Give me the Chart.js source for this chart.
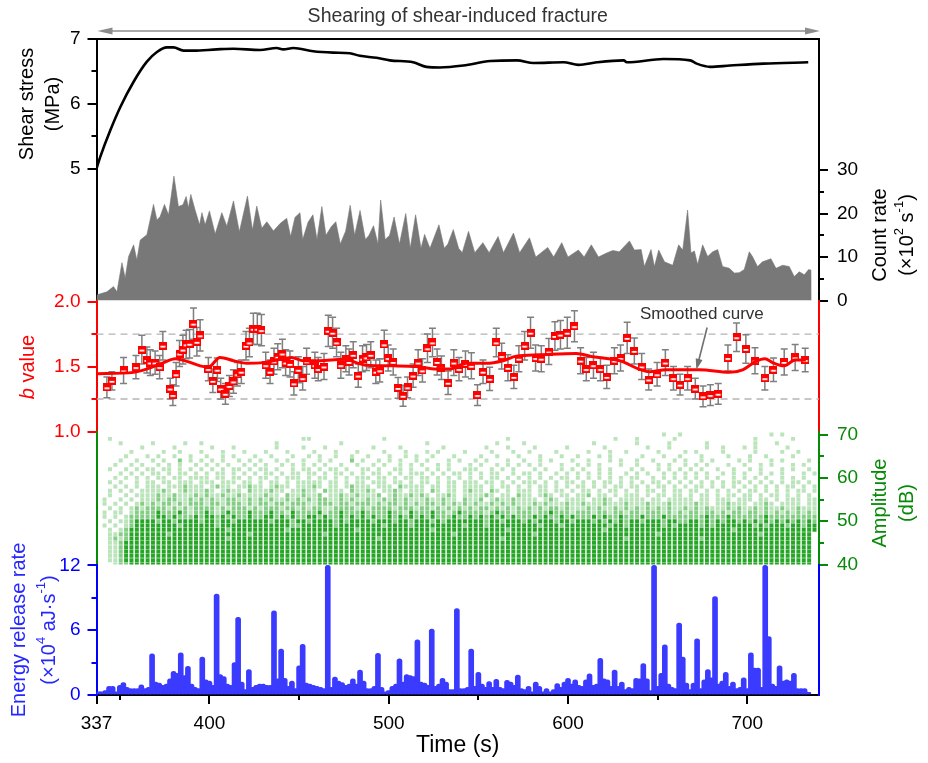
<!DOCTYPE html>
<html><head><meta charset="utf-8">
<script src="https://cdn.jsdelivr.net/npm/chart.js@4.4.1/dist/chart.umd.min.js"></script>
<style>html,body{margin:0;padding:0;background:#fff;}canvas{display:block}</style>
</head><body>
<canvas id="c" width="928" height="763" style="width:928px;height:763px"></canvas>
<script>
// ---------------- DATA ----------------
const xTicks = [337,350,400,450,500,550,600,650,700];
const xLabels = ['337','','400','','500','','600','','700'];
const stressTicks = [5,5.5,6,6.5,7];
const stressLabels = ['5','','6','','7'];
const countTicks = [0,5,10,15,20,25,30];
const countLabels = ['0','','10','','20','','30'];
const bTicks = [1,1.25,1.5,1.75,2];
const bLabels = ['1.0','','1.5','','2.0'];
const ampTicks = [40,45,50,55,60,65,70];
const ampLabels = ['40','','50','','60','','70'];
const energyTicks = [0,3,6,9,12];
const energyLabels = ['0','','6','','12'];

const stressTime = [337,339.1,344.7,350.3,357.7,365.1,370.7,376.3,380,385.5,391.1,404.1,413.4,428.2,437.5,441.2,446.8,457.9,469,478.3,483.9,493.2,500.6,513.6,521,528.5,541.6,556.7,571.5,580.8,597.5,605.9,616.1,631,632.8,653.2,668.1,671.8,679.2,690.4,709,734];
const stressValue = [5.0,5.18,5.59,5.95,6.34,6.65,6.80,6.87,6.87,6.82,6.82,6.84,6.85,6.83,6.86,6.84,6.86,6.81,6.79,6.78,6.74,6.71,6.67,6.64,6.57,6.56,6.59,6.66,6.67,6.63,6.64,6.60,6.64,6.67,6.64,6.69,6.67,6.62,6.57,6.59,6.62,6.64];

const countTime = [337,337.3,342.8,346.5,348.4,351.2,353,354.9,357.7,359.5,361.4,365.1,368.8,370.7,372.5,374.9,377.2,380.2,382.7,385.2,387,388.3,389.6,392,394.5,395.8,397.6,400,403.2,406.9,409.7,413.4,416.7,421.2,424,426.4,429.2,432,435.7,439.4,443.1,445.3,447.7,450.5,452,455,457.7,460,462.7,465,468,470.5,473,476,478.5,481,484,487,489,491.5,494,495.5,498,500.5,503,506,509.5,512,515,518,520,523,528,531,533,536,539,541,544.5,548,552.5,556,561,564,569.6,573,578.5,582,588.7,592,596.5,600,605.8,609,613,617,621.5,625,628.6,634.3,637,640.8,642.6,646.3,648.2,650.6,653.8,658.4,661.7,664,666.7,668.6,670.5,672.3,675.1,677.9,680.7,683.5,686.2,690,692.8,695.5,698.3,701.1,702.9,705.7,708.5,713.2,716,719.7,723.4,726.2,729,731.8,734.2,735.5,735.6];
const countValue = [0,1.3,2.0,3.2,2.0,8.7,5.2,10.1,12.8,9.3,13.9,15.1,22.1,18.5,19.3,22.1,19.7,28.6,21.6,22.0,23.9,21.3,24.4,20.8,17.4,20.2,17.4,20.6,15.3,20.2,17.1,22.9,15.8,24.0,16.2,21.7,16.6,18.1,16.0,17.7,18.9,14.7,19.1,20.2,14,18,19.7,14,21.6,15,17,18.1,13,16,21.9,15,20.7,14,15,17.2,13,23.1,14,15,19.2,13,20.0,12,19.7,12,15.2,12,17.4,12,13,16.3,12,11,15.9,11,13.3,11,14.7,11,15.5,11,14.4,10,12.2,10,13.3,10,11.6,10,12.8,10,10.9,11.5,11.2,13.7,11.6,11.7,7.8,11.7,7.8,11.6,8.9,8.1,12.8,11.6,20.8,10.9,11.4,8.3,12.8,10.1,11.2,11.7,7.8,7.4,6.3,6.4,7.1,11.2,10.1,7.8,8.9,9.6,7.4,8.1,7.8,5.5,6.6,5.9,7.1,7.0,0];

const bTime = [342.8,345.6,352.1,359.0,362.3,365.1,367.0,369.7,372.2,374.0,378.1,379.6,381.4,383.3,385.2,387.0,388.9,391.1,393.0,394.8,399.4,401.9,404.4,406.3,408.9,411.1,413.4,415.6,417.8,420.4,422.3,424.5,426.7,429.0,431.4,433.8,436.0,438.1,440.7,442.5,444.9,447.1,449.6,452.0,454.2,458.8,460.7,463.9,466.3,468.7,470.9,473.3,476.1,477.9,480.2,483.0,485.4,487.6,490.0,492.8,495.0,497.5,499.7,502.5,505.2,508.0,510.5,513.6,516.4,518.8,521.6,524.4,527.0,529.4,533.1,536.3,539.2,542.8,546.1,549.5,552.6,556.3,560.0,563.0,566.5,569.8,572.6,575.8,579.1,581.9,585.1,589.3,592.7,595.8,599.6,603.6,607.0,610.2,614.2,618.1,621.6,625.9,629.3,633.0,637.0,641.1,645.0,649.7,654.3,658.8,662.5,666.7,671.0,675.3,679.4,683.8,689.2,694.0,699.2,704.3,709.8,714.6,720.6,726.7,732.3];
const bValue = [1.34,1.39,1.47,1.495,1.63,1.55,1.53,1.53,1.495,1.66,1.33,1.28,1.44,1.60,1.63,1.67,1.675,1.83,1.69,1.74,1.48,1.39,1.475,1.33,1.29,1.35,1.385,1.44,1.46,1.66,1.685,1.79,1.79,1.78,1.51,1.46,1.54,1.575,1.60,1.53,1.52,1.37,1.475,1.41,1.54,1.51,1.48,1.50,1.775,1.76,1.685,1.51,1.56,1.535,1.59,1.43,1.56,1.57,1.59,1.46,1.47,1.67,1.565,1.535,1.335,1.275,1.34,1.43,1.53,1.47,1.64,1.685,1.535,1.49,1.375,1.53,1.48,1.52,1.505,1.28,1.46,1.405,1.685,1.58,1.49,1.42,1.56,1.66,1.76,1.565,1.56,1.615,1.735,1.745,1.76,1.81,1.545,1.48,1.51,1.48,1.42,1.545,1.565,1.72,1.62,1.50,1.40,1.44,1.53,1.41,1.36,1.41,1.33,1.27,1.28,1.29,1.565,1.725,1.635,1.545,1.41,1.475,1.535,1.57,1.55];
const bError = [0.08,0.07,0.10,0.09,0.11,0.10,0.10,0.09,0.09,0.11,0.08,0.08,0.09,0.10,0.11,0.11,0.11,0.12,0.11,0.12,0.09,0.09,0.09,0.08,0.08,0.08,0.09,0.09,0.09,0.11,0.11,0.12,0.12,0.12,0.10,0.09,0.10,0.10,0.11,0.10,0.10,0.09,0.10,0.09,0.10,0.10,0.09,0.10,0.12,0.12,0.11,0.10,0.10,0.10,0.10,0.09,0.10,0.10,0.10,0.09,0.09,0.11,0.10,0.10,0.08,0.08,0.08,0.09,0.10,0.09,0.11,0.11,0.10,0.09,0.09,0.10,0.09,0.10,0.10,0.08,0.09,0.09,0.11,0.10,0.10,0.09,0.10,0.11,0.12,0.10,0.10,0.10,0.11,0.11,0.12,0.12,0.10,0.09,0.10,0.09,0.09,0.10,0.10,0.12,0.10,0.10,0.08,0.09,0.10,0.09,0.08,0.09,0.08,0.08,0.08,0.08,0.10,0.11,0.11,0.10,0.09,0.09,0.10,0.10,0.09];
const bRefLevels = [1.25, 1.75];

const smoothTime = [337.3,357.7,367,374.4,380.9,387.4,394.8,399.4,405.9,413.4,420.8,430.1,437.5,445.9,452.3,461.5,474.6,487.6,502.5,515.5,526.6,534,543.3,554.5,563.7,571.2,584.1,604.6,613.8,625,628.7,645.4,654.7,667.7,673.3,690,697.4,704.8,709.8,714.1,720.6,726.7,732.7];
const smoothValue = [1.445,1.455,1.49,1.53,1.56,1.54,1.505,1.495,1.57,1.545,1.525,1.53,1.55,1.57,1.545,1.545,1.555,1.51,1.505,1.50,1.48,1.48,1.525,1.525,1.545,1.58,1.59,1.60,1.575,1.555,1.545,1.46,1.475,1.475,1.475,1.455,1.475,1.54,1.56,1.53,1.505,1.55,1.55];

// Amplitude hits: one row per dB level, one char per 3-s time bin starting at 337 s
// '.' none, '1' few hits, '2' several hits, '3' many overlapping hits
const ampBinStart = 337, ampBinWidth = 3;
const ampLevels = [70,69,68,67,66,65,64,63,62,61,60,59,58,57,56,55,54,53,52,51,50,49,48,47,46,45,44,43,42,41,40];
const ampRows = [
".......... .......... .......... .......... .......... .......... .......... .......... .......... .......... .....1..1. .......... .....1.1.. ....",
"..1....... .......... .......... ........11 .......... ...1...... .......... ......1... .......... ......1... 1......1.. .......... ..1......1 ....",
"....1..... 1.....1..1 .......... ...1...... .....1.... .......... .1........ ....1....1 .......... ..1....... 1.....1... ...1...... ..1...1... ....",
"........1. ....1..... .1...1.... ...1....1. ..1....... .1....1... ....1..... ..1...1... .1.....1.. ....1..... ..1...1... ...1..1... 1.1.....1. ....",
"......1... ..1..1...1 ...1...1.. .1...1.... 1...1...1. ...1...1.. .1.1....1. ...1...1.. 1....1.... .1...1..1. ....1....1 .1....1... ..1....1.. 1...",
".....1...1 .1..1..1.. 1..1.1...1 ..1...1..1 .1..1..1.. 1...1..1.1 ..1...1... .1..1...1. ..1...1..1 ...1.1.... .1...1..1. ..1....1.. .1..1....1 ....",
"....1..1.. 1.1..2.1.1 .1.1..1.1. 1..1.1..1. .1.1...2.1 ..1.1.1..1 .1...1.1.. 1.1...1..1 ..1.1...1. .1...1.1.. 1..1...1.1 ..1.1....1 .1...1.1.. ..1.",
"...1..1.1. .1.1.1..1. 1.1.1..1.1 .1..1.1.1. 1.1..1..1. .1.1..1.1. 1..1.1...1 .1..1.1.1. 1.1...1..1 .1.1...1.. 1...1.1..1 .1.1...1.. 1..1.1...1 .1..",
"..1..1.1.1 1.11.1.1.1 .1.1.11.1. 11.1..1.11 .1.11.1..1 1.1..11.1. .1.1.1..11 1..1.1.1.. .1.1..1.1. 1..1.1...1 .1..1.1.1. 1.1..1..1. .1.1...1.1 ..1.",
"....1.1.1. 11.1.11.1. 1.11.1.1.1 .11.1.11.1 1.1.11.1.1 .11.1.1.11 1.1.1.11.1 .1.11..1.1 1.1..1.1.1 .1.1.1..1. 1.1..1.1.1 .1.1..1.1. 1..1.1.1.. .1.1",
"...1.1.1.1 .11.11.111 1.11.11.1. 11.1.111.1 .11.1.1.11 1.11.1.11. 11.1.1.1.1 .1.11.1.1. 1.1.1.11.1 .1.1.1.1.1 1..1.1.1.1 .1.1.1..1. 1.1.1..1.1 .1..",
"..1.1..1.1 1.11.111.1 11.111.11. 1.11.1.111 11.11.1.11 .111.11.1. 11.1.11.11 1.11.1.1.1 11.1.1.11. 1.1.11.1.1 .1.11.1.1. 1.1.1.1.11 .1.1.1.1.1 1.1.",
"...1.1.1.1 11.1112111 .1211.1121 1.1211.111 21.11.1211 1.111.2111 1.11.11.11 11.1.11.1. 1.11.1.1.1 1.1.1.11.1 1.1.11.1.1 .11.1.1.1. 1.1.1.1.11 .1.1",
"..1.1.1.11 1121.12111 21.1211.21 11211.1121 1.2111.211 21.1121.11 1.21.11.12 11.21.1.11 1.11.11.1. 11.1.11.1. 1.11.1.11. 11.1.1.1.1 .11.1.1.1. 11.1",
"..1..1.111 1211211121 2112112111 1211.21121 12.1121121 112.121121 21.1121.11 1121.11.21 1.121.11.1 12.11.1.11 1.1.11.11. 1.11.1.11. 11.1.11.1. 1.1.",
".1..1.1.11 1212211212 1211221121 2121121212 1221121211 2112121211 1211211.21 12.1211211 11.121.111 1.1121.111 11.11.1111 1.11.111.1 11.11.1.11 1.11",
".1.1.1.121 2122121222 1221222121 2212212221 1222122122 2121221212 1221212121 2112121211 1212111211 2111211121 1121112111 1211.11211 1.1121.111 1.11",
"..1.1.1212 2221212122 2212122212 1222122121 2211222212 1222212221 2212121212 1221212121 2121221211 1212112121 2121212112 1212111212 1121211211 2111",
".1.11.1222 2322232122 3212322232 2232213222 2312232223 2222322132 2232212322 2212322122 2122322212 2212212212 2122212121 2212212122 1221212121 2121",
".1.1.12222 2332322232 3323232232 2332323223 3232232323 2322323232 3232223223 2323232322 2323223232 2232322322 2322232222 2223222322 2222322222 2222",
"..1.112333 3233233332 3323323333 3323332332 3333232333 3233323323 3323233333 3323323332 3233323323 3323232323 3233323322 3323232332 3232323232 3232",
".1.1.12333 3333323333 3323333333 3333332233 3333233333 3332333323 3333333323 3323333333 3323332333 3333323323 3333323233 3323233333 3323233323 3233",
"..1.123333 3333333333 3333233333 3333323333 3333333323 3333333333 3323333333 3333332333 3333333333 3333233333 3333333333 3333333323 3333333333 3333",
"..11223333 3332333333 3333333323 3333333333 3323333333 3333333333 3333332333 3333333333 3233333333 3333333333 3333233333 3333333333 3332333333 333.",
"..12123333 3333333333 3333233333 3333333333 3333333333 3323333333 3333333333 3333323333 3333333333 3333333323 3333333333 3323333333 3333333333 333.",
"..11233333 3333333333 3333333333 3333333333 3333333333 3333333333 3333333333 3333333333 3333333333 3333333333 3333333333 3333333333 3333333333 333.",
"..11233333 3333333333 3333333333 3333333333 3333333333 3333333333 3333333333 3333333333 3333333333 3333333333 3333333333 3333333333 3333333333 333.",
"..11233333 3333333333 3333333333 3333333333 3333333333 3333333333 3333333333 3333333333 3333333333 3333333333 3333333333 3333333333 3333333333 333.",
"..11233333 3333333333 3333333333 3333333333 3333333333 3333333333 3333333333 3333333333 3333333333 3333333333 3333333333 3333333333 3333333333 333.",
"..11233333 3333333333 3333333333 3333333333 3333333333 3333333333 3333333333 3333333333 3333333333 3333333333 3333333333 3333333333 3333333333 333.",
"...1223333 3333333333 3333333333 3333333333 3333333333 3333333333 3333333333 3333333333 3333333333 3333333333 3333333333 3333333333 3333333333 333."
];

// Energy release rate, sampled every 2 s from 338 s
const energyStart = 338, energyStep = 2;
const energyValue = [0.3,0.3,0.4,0.8,0.8,0.3,0.9,1.15,0.7,0.6,
0.6,0.6,0.95,0.6,0.7,3.8,1.2,1.1,0.9,1.0,
1.5,2.2,2.0,3.9,1.8,2.65,1.0,0.7,0.6,3.5,
1.4,1.3,0.9,9.35,1.9,1.7,1.0,0.9,3.0,7.2,
1.2,0.5,2.35,0.7,0.9,1.0,1.0,0.9,0.9,7.8,
1.5,4.25,1.55,0.8,1.3,0.6,2.7,4.7,1.1,1.0,
0.9,0.8,0.7,0.6,12,0.7,1.65,1.3,1.15,0.9,
1.0,1.5,1.0,2.3,1.3,0.6,0.6,0.8,3.85,0.7,
0.3,0.4,0.8,1.0,3.35,1.2,1.9,1.8,1.7,5.1,
1.2,1.1,0.9,6.1,0.8,1.0,1.55,1.2,0.5,0.5,
8.0,0.6,0.6,0.7,4.25,0.8,2.1,1.0,0.7,1.25,
0.7,1.45,0.7,0.6,1.35,1.2,0.9,1.85,0.6,0.5,
0.8,0.3,1.2,0.8,0.3,0.6,0.3,0.5,1.05,0.7,
1.2,1.55,1.0,1.4,0.9,0.8,1.4,1.95,0.9,1.0,
3.4,1.5,1.4,0.8,2.3,0.8,1.2,0.5,0.7,0.6,
1.55,1.5,2.9,1.5,0.4,12,0.8,2.0,4.65,1.0,
0.7,0.6,6.65,3.5,1.1,0.5,1.1,5.2,0.6,1.4,
2.35,1.6,9.1,1.0,1.3,2.1,0.8,1.2,0.6,0.7,
1.6,0.6,3.9,2.5,2.5,0.7,12,5.4,1.0,0.8,
2.7,1.3,1.4,1.3,2.0,0.6,0.6,0.6,0.25];

const topNote = 'Shearing of shear-induced fracture';
const curveNote = 'Smoothed curve';

// ---------------- STYLE ----------------
const FAM = "'Liberation Sans', Arial, Helvetica, sans-serif";
const RED = '#ff0000', GREEN = '#078a07', BLUE = '#0000ff', BLUE_T = '#2626ff', BAR = '#3b3bff';

const xy = (xs, ys) => xs.map((x, i) => ({x, y: ys[i]}));

const ampPts = [[], [], []];
ampRows.forEach((row, r) => {
  const s = row.replace(/\s+/g, '');
  for (let i = 0; i < s.length; i++) {
    const c = s[i];
    if (c >= '1' && c <= '3') {
      const t = ampBinStart + ampBinWidth * (i + 0.5);
      if (t <= 740) ampPts[+c - 1].push({x: t, y: ampLevels[r]});
    }
  }
});
const energyPts = energyValue.map((v, i) => ({x: energyStart + energyStep * i, y: v}));

// b marker
const mk = document.createElement('canvas'); mk.width = 8; mk.height = 8;
{ const g = mk.getContext('2d'); g.fillStyle = RED; g.fillRect(0, 0, 8, 8); g.fillStyle = '#fff'; g.fillRect(1.5, 4, 5, 1.8); }

// minor ticks (empty label) are drawn shorter by the plugin
const minorTicks = []; // {axisId, value, side, color}
function yAxis(o) {
  const left = o.pos === 'left';
  const hasT = !!o.ticks;
  const isMinor = v => hasT && o.labels[o.ticks.indexOf(v)] === '';
  const ax = {
    type: 'linear', position: o.pos, stack: left ? 'L' : 'R', stackWeight: o.sw, weight: o.weight,
    min: o.min, max: o.max,
    ticks: { display: hasT, color: o.color, font: {family: FAM, size: 19}, padding: left ? 7 : 9, autoSkip: false,
             callback: (v, i) => hasT ? (o.labels[i] ?? '') : '' },
    grid: { display: true, drawOnChartArea: false, drawTicks: hasT, tickLength: 9, color: o.color, lineWidth: 2,
            tickColor: c => (c.tick && isMinor(c.tick.value)) ? 'rgba(0,0,0,0)' : o.color },
    border: { color: o.color, width: 2 },
    afterFit: s => { s.width = left ? 96.5 : 109; },
    minorInfo: { color: o.color, side: o.pos, values: hasT ? o.ticks.filter(isMinor) : [] }
  };
  if (hasT) ax.afterBuildTicks = s => { s.ticks = o.ticks.map(v => ({value: v})); };
  return ax;
}

function richText(ctx, x, y, rot, segs, size, color) {
  ctx.save(); ctx.translate(x, y); ctx.rotate(rot);
  ctx.fillStyle = color; ctx.textBaseline = 'middle'; ctx.textAlign = 'left';
  const fontOf = s => `${s.it ? 'italic ' : ''}${s.sup ? Math.round(size * 0.64) : size}px ${FAM}`;
  let total = 0;
  const w = segs.map(s => { ctx.font = fontOf(s); const m = ctx.measureText(s.t).width; total += m; return m; });
  let cx = -total / 2;
  segs.forEach((s, i) => { ctx.font = fontOf(s); ctx.fillText(s.t, cx, s.sup ? -size * 0.36 : 0); cx += w[i]; });
  ctx.restore();
}

function arrowHead(ctx, tipX, tipY, dirX, dirY, len, half) {
  const n = Math.hypot(dirX, dirY), ux = dirX / n, uy = dirY / n;
  const bx = tipX - ux * len, by = tipY - uy * len;
  ctx.beginPath(); ctx.moveTo(tipX, tipY);
  ctx.lineTo(bx - uy * half, by + ux * half); ctx.lineTo(bx + uy * half, by - ux * half);
  ctx.closePath(); ctx.fill();
}

const deco = {
  id: 'deco',
  beforeDatasetDraw(chart, args) {
    if (chart.data.datasets[args.index].label !== 'b value') return;
    const ctx = chart.ctx, xs = chart.scales.x, ys = chart.scales.yB;
    ctx.save(); ctx.strokeStyle = '#7f7f7f'; ctx.lineWidth = 1.5;
    bTime.forEach((t, i) => {
      const px = xs.getPixelForValue(t);
      const y1 = ys.getPixelForValue(bValue[i] + bError[i]), y2 = ys.getPixelForValue(bValue[i] - bError[i]);
      ctx.beginPath();
      ctx.moveTo(px, y1); ctx.lineTo(px, y2);
      ctx.moveTo(px - 3.5, y1); ctx.lineTo(px + 3.5, y1);
      ctx.moveTo(px - 3.5, y2); ctx.lineTo(px + 3.5, y2);
      ctx.stroke();
    });
    ctx.restore();
  },
  afterDraw(chart) {
    const ctx = chart.ctx, ca = chart.chartArea, xs = chart.scales.x, yB = chart.scales.yB;
    ctx.save();
    // short minor ticks
    ctx.lineWidth = 2;
    Object.values(chart.scales).forEach(sc => {
      const mi = sc.options.minorInfo;
      if (!mi || !mi.values.length) return;
      ctx.strokeStyle = mi.color;
      mi.values.forEach(v => {
        const p = Math.round(sc.getPixelForValue(v));
        ctx.beginPath();
        if (mi.side === 'left') { ctx.moveTo(ca.left - 5, p); ctx.lineTo(ca.left, p); }
        else if (mi.side === 'right') { ctx.moveTo(ca.right, p); ctx.lineTo(ca.right + 5, p); }
        else { ctx.moveTo(p, ca.bottom); ctx.lineTo(p, ca.bottom + 5); }
        ctx.stroke();
      });
    });
    // top annotation
    ctx.fillStyle = '#333'; ctx.font = `19.5px ${FAM}`; ctx.textAlign = 'center'; ctx.textBaseline = 'middle';
    ctx.fillText(topNote, (ca.left + ca.right) / 2, 17);
    ctx.strokeStyle = '#8c8c8c'; ctx.fillStyle = '#8c8c8c'; ctx.lineWidth = 1.3;
    ctx.beginPath(); ctx.moveTo(ca.left + 10, 31); ctx.lineTo(ca.right - 10, 31); ctx.stroke();
    arrowHead(ctx, ca.left + 1, 31, -1, 0, 15, 3.5);
    arrowHead(ctx, ca.right + 1, 31, 1, 0, 15, 3.5);
    // smoothed curve note
    ctx.fillStyle = '#333'; ctx.font = `17px ${FAM}`;
    ctx.fillText(curveNote, xs.getPixelForValue(674.7), yB.getPixelForValue(1.905));
    const ax0 = xs.getPixelForValue(677.6), ay0 = yB.getPixelForValue(1.80);
    const ax1 = xs.getPixelForValue(671.6), ay1 = yB.getPixelForValue(1.475);
    ctx.strokeStyle = '#707070'; ctx.fillStyle = '#707070'; ctx.lineWidth = 1.6;
    ctx.beginPath(); ctx.moveTo(ax0, ay0); ctx.lineTo(ax0 + (ax1 - ax0) * 0.8, ay0 + (ay1 - ay0) * 0.8); ctx.stroke();
    arrowHead(ctx, ax1, ay1, ax1 - ax0, ay1 - ay0, 11, 3.5);
    ctx.restore();
    // axis titles
    const R = -Math.PI / 2;
    richText(ctx, 27, 104, R, [{t: 'Shear stress'}], 20, '#000');
    richText(ctx, 53, 104, R, [{t: '(MPa)'}], 20, '#000');
    richText(ctx, 28, 367, R, [{t: 'b', it: 1}, {t: ' value'}], 20, RED);
    richText(ctx, 19, 630, R, [{t: 'Energy release rate'}], 20, BLUE_T);
    richText(ctx, 49, 630, R, [{t: '(×10'}, {t: '4', sup: 1}, {t: ' aJ·s'}, {t: '-1', sup: 1}, {t: ')'}], 20, BLUE_T);
    richText(ctx, 880, 235, R, [{t: 'Count rate'}], 20, '#000');
    richText(ctx, 907, 235, R, [{t: '(×10'}, {t: '2', sup: 1}, {t: ' s'}, {t: '-1', sup: 1}, {t: ')'}], 20, '#000');
    richText(ctx, 880, 503, R, [{t: 'Amplitude'}], 20, GREEN);
    richText(ctx, 907, 503, R, [{t: '(dB)'}], 20, GREEN);
    richText(ctx, (ca.left + ca.right) / 2, 746, 0, [{t: 'Time (s)'}], 23, '#000');
  }
};

const xMinor = v => xLabels[xTicks.indexOf(v)] === '';

const chart = new Chart(document.getElementById('c'), {
  data: {
    datasets: [
      { type: 'line', label: 'smoothed', data: xy(smoothTime, smoothValue), yAxisID: 'yB', order: 1,
        borderColor: RED, borderWidth: 3, pointRadius: 0, tension: 0.4, cubicInterpolationMode: 'monotone', fill: false },
      { type: 'scatter', label: 'b value', data: xy(bTime, bValue), yAxisID: 'yB', order: 2,
        pointStyle: mk, pointRadius: 4, showLine: false },
      ...bRefLevels.map(v => ({ type: 'line', label: 'ref', data: [{x: 337, y: v}, {x: 740, y: v}], yAxisID: 'yB', order: 3,
        borderColor: '#b4b4b4', borderWidth: 1.3, borderDash: [7, 5], pointRadius: 0, fill: false })),
      { type: 'line', label: 'stress', data: xy(stressTime, stressValue), yAxisID: 'yS', order: 4,
        borderColor: '#000', borderWidth: 2.6, pointRadius: 0, tension: 0.3, cubicInterpolationMode: 'monotone', fill: false },
      { type: 'line', label: 'count', data: xy(countTime, countValue), yAxisID: 'yC', order: 5,
        borderColor: '#787878', backgroundColor: '#787878', borderWidth: 0.6, pointRadius: 0, tension: 0, fill: 'origin' },
      { type: 'scatter', label: 'amp1', data: ampPts[0], yAxisID: 'yA', order: 6,
        pointStyle: 'rect', pointRadius: 2.8, borderWidth: 0, backgroundColor: 'rgba(40,170,40,0.32)' },
      { type: 'scatter', label: 'amp2', data: ampPts[1], yAxisID: 'yA', order: 6,
        pointStyle: 'rect', pointRadius: 2.8, borderWidth: 0, backgroundColor: 'rgba(20,160,20,0.52)' },
      { type: 'scatter', label: 'amp3', data: ampPts[2], yAxisID: 'yA', order: 6,
        pointStyle: 'rect', pointRadius: 2.8, borderWidth: 0, backgroundColor: 'rgba(0,150,0,0.85)' },
      { type: 'bar', label: 'energy', data: energyPts, yAxisID: 'yE', order: 7,
        backgroundColor: BAR, borderWidth: 0, barThickness: 5, borderRadius: {topLeft: 2.5, topRight: 2.5}, grouped: false }
    ]
  },
  options: {
    responsive: false, animation: false, devicePixelRatio: 1, events: [],
    layout: { padding: 0 },
    plugins: { legend: {display: false}, tooltip: {enabled: false} },
    scales: {
      x: { type: 'linear', position: 'bottom', min: 337, max: 740, offset: false,
           afterBuildTicks: s => { s.ticks = xTicks.map(v => ({value: v})); },
           ticks: { color: '#000', font: {family: FAM, size: 19}, padding: 8, maxRotation: 0, autoSkip: false,
                    callback: (v, i) => xLabels[i] ?? '' },
           grid: { display: true, drawOnChartArea: false, offset: false, tickLength: 9, color: '#000', lineWidth: 2,
                   tickColor: c => (c.tick && xMinor(c.tick.value)) ? 'rgba(0,0,0,0)' : '#000' },
           border: { color: '#000', width: 2 },
           minorInfo: { color: '#000', side: 'bottom', values: xTicks.filter(xMinor) },
           afterFit: s => { s.height = 68; } },
      xTop: { type: 'linear', position: 'top', min: 337, max: 740, offset: false,
              ticks: { display: false }, grid: { display: false, drawTicks: false },
              border: { color: '#000', width: 2 }, afterFit: s => { s.height = 39; } },
      yS: yAxis({pos: 'left', sw: 129.5, weight: 5, min: 5, max: 7, ticks: stressTicks, labels: stressLabels, color: '#000'}),
      yL2: yAxis({pos: 'left', sw: 132, weight: 4, min: 0, max: 1, color: '#000'}),
      yB: yAxis({pos: 'left', sw: 131, weight: 3, min: 1, max: 2.008, ticks: bTicks, labels: bLabels, color: RED}),
      yAL: yAxis({pos: 'left', sw: 133, weight: 2, min: 40, max: 70.7, color: GREEN}),
      yE: yAxis({pos: 'left', sw: 130.5, weight: 1, min: 0, max: 12.08, ticks: energyTicks, labels: energyLabels, color: BLUE}),
      yR1: yAxis({pos: 'right', sw: 129.5, weight: 1, min: 0, max: 1, color: '#000'}),
      yC: yAxis({pos: 'right', sw: 132, weight: 2, min: 0, max: 30.35, ticks: countTicks, labels: countLabels, color: '#000'}),
      yBR: yAxis({pos: 'right', sw: 131, weight: 3, min: 1, max: 2.008, color: RED}),
      yA: yAxis({pos: 'right', sw: 133, weight: 4, min: 40, max: 70.7, ticks: ampTicks, labels: ampLabels, color: GREEN}),
      yER: yAxis({pos: 'right', sw: 130.5, weight: 5, min: 0, max: 12.08, color: BLUE})
    }
  },
  plugins: [deco]
});
</script>
</body></html>
